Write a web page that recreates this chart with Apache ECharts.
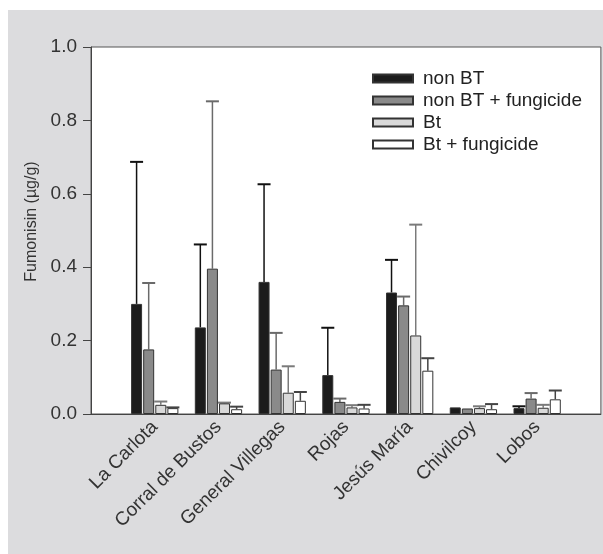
<!DOCTYPE html>
<html>
<head>
<meta charset="utf-8">
<script src="https://cdn.jsdelivr.net/npm/echarts@6/dist/echarts.min.js"></script>
<style>
  html, body { margin: 0; padding: 0; background: #fff; }
  #chart { position: absolute; left: 8px; top: 10px; width: 595px; height: 544px; }
</style>
</head>
<body>
<div id="chart"></div>
<script>
// sites along the x axis
let sites = ['La Carlota', 'Corral de Bustos', 'General Villegas', 'Rojas', 'Jesús María', 'Chivilcoy', 'Lobos']
let names = ['non BT', 'non BT + fungicide', 'Bt', 'Bt + fungicide']
// mean fumonisin (µg/g)
let nonBT = [0.30, 0.236, 0.36, 0.106, 0.331, 0.018, 0.016]
let nonBTFung = [0.176, 0.396, 0.121, 0.033, 0.296, 0.015, 0.042]
let bt = [0.025, 0.029, 0.058, 0.018, 0.214, 0.016, 0.017]
let btFung = [0.016, 0.013, 0.036, 0.015, 0.118, 0.013, 0.040]
// top of the error bar (mean + error)
let nonBTErr = [0.687, 0.462, 0.626, 0.235, 0.42, null, 0.021]
let nonBTFungErr = [0.357, 0.852, 0.221, 0.042, 0.32, null, 0.057]
let btErr = [0.034, 0.031, 0.13, 0.024, 0.516, 0.021, 0.025]
let btFungErr = [0.018, 0.02, 0.06, 0.025, 0.152, 0.027, 0.064]
let yTicks = [0, 0.2, 0.4, 0.6, 0.8, 1.0]

let values = [nonBT, nonBTFung, bt, btFung]
let errs = [nonBTErr, nonBTFungErr, btErr, btFungErr]
let fills = ['#1c1c1c', '#8a8a8a', '#d9d9d9', '#ffffff']
let errColors = ['#111', '#6a6a6a', '#7a7a7a', '#444']
let barW = 11
let pitch = barW * 1.1

let myChart = echarts.init(document.getElementById('chart'))

let series = []
values.forEach(function (vals, k) {
  series.push({
    name: names[k],
    type: 'bar',
    barWidth: barW,
    barGap: '10%',
    data: ['-'].concat(vals, ['-']),
    itemStyle: { color: fills[k], borderColor: '#333', borderWidth: 1 }
  })
})
errs.forEach(function (tops, k) {
  let data = []
  tops.forEach(function (t, i) {
    if (t != null) data.push([i + 1, values[k][i], t])
  })
  series.push({
    type: 'custom',
    silent: true,
    data: data,
    renderItem: function (params, api) {
      let base = api.coord([api.value(0), api.value(1)])
      let top = api.coord([api.value(0), api.value(2)])
      let x = base[0] + (k - 1.5) * pitch
      return {
        type: 'group',
        children: [
          { type: 'line', shape: { x1: x, y1: base[1], x2: x, y2: top[1] }, style: { stroke: errColors[k], lineWidth: 1.5 } },
          { type: 'line', shape: { x1: x - 6.5, y1: top[1], x2: x + 6.5, y2: top[1] }, style: { stroke: errColors[k], lineWidth: 2 } }
        ]
      }
    }
  })
})

myChart.setOption({
  backgroundColor: '#dcdcde',
  textStyle: { fontFamily: 'Liberation Sans, Arial, sans-serif' },
  grid: {
    left: 83, top: 37, right: 2, bottom: 140,
    show: true, backgroundColor: '#fff', borderColor: '#555', borderWidth: 1
  },
  legend: {
    data: names,
    orient: 'vertical',
    icon: 'rect',
    left: 359,
    top: 54,
    itemWidth: 40,
    itemHeight: 8,
    itemGap: 3,
    textStyle: { fontSize: 19, color: '#222', lineHeight: 19, padding: [0, 0, 0, 5] }
  },
  xAxis: {
    type: 'category',
    boundaryGap: false,
    data: [''].concat(sites, ['']),
    axisLine: { lineStyle: { color: '#444' } },
    axisTick: { show: false },
    axisLabel: { rotate: 45, fontSize: 19, color: '#333', margin: 10, interval: 0 }
  },
  yAxis: {
    type: 'value',
    min: yTicks[0],
    max: yTicks[yTicks.length - 1],
    interval: 0.2,
    name: 'Fumonisin (µg/g)',
    nameLocation: 'middle',
    nameGap: 50,
    nameTextStyle: { fontSize: 16, color: '#333', padding: [0, 0, 0, 18] },
    axisLine: { show: true, lineStyle: { color: '#444' } },
    axisTick: { show: true, length: 8, lineStyle: { color: '#444' } },
    axisLabel: { fontSize: 19, color: '#333', margin: 14, formatter: function (v) { return v.toFixed(1) } },
    splitLine: { show: false }
  },
  series: series
})
</script>
</body>
</html>
